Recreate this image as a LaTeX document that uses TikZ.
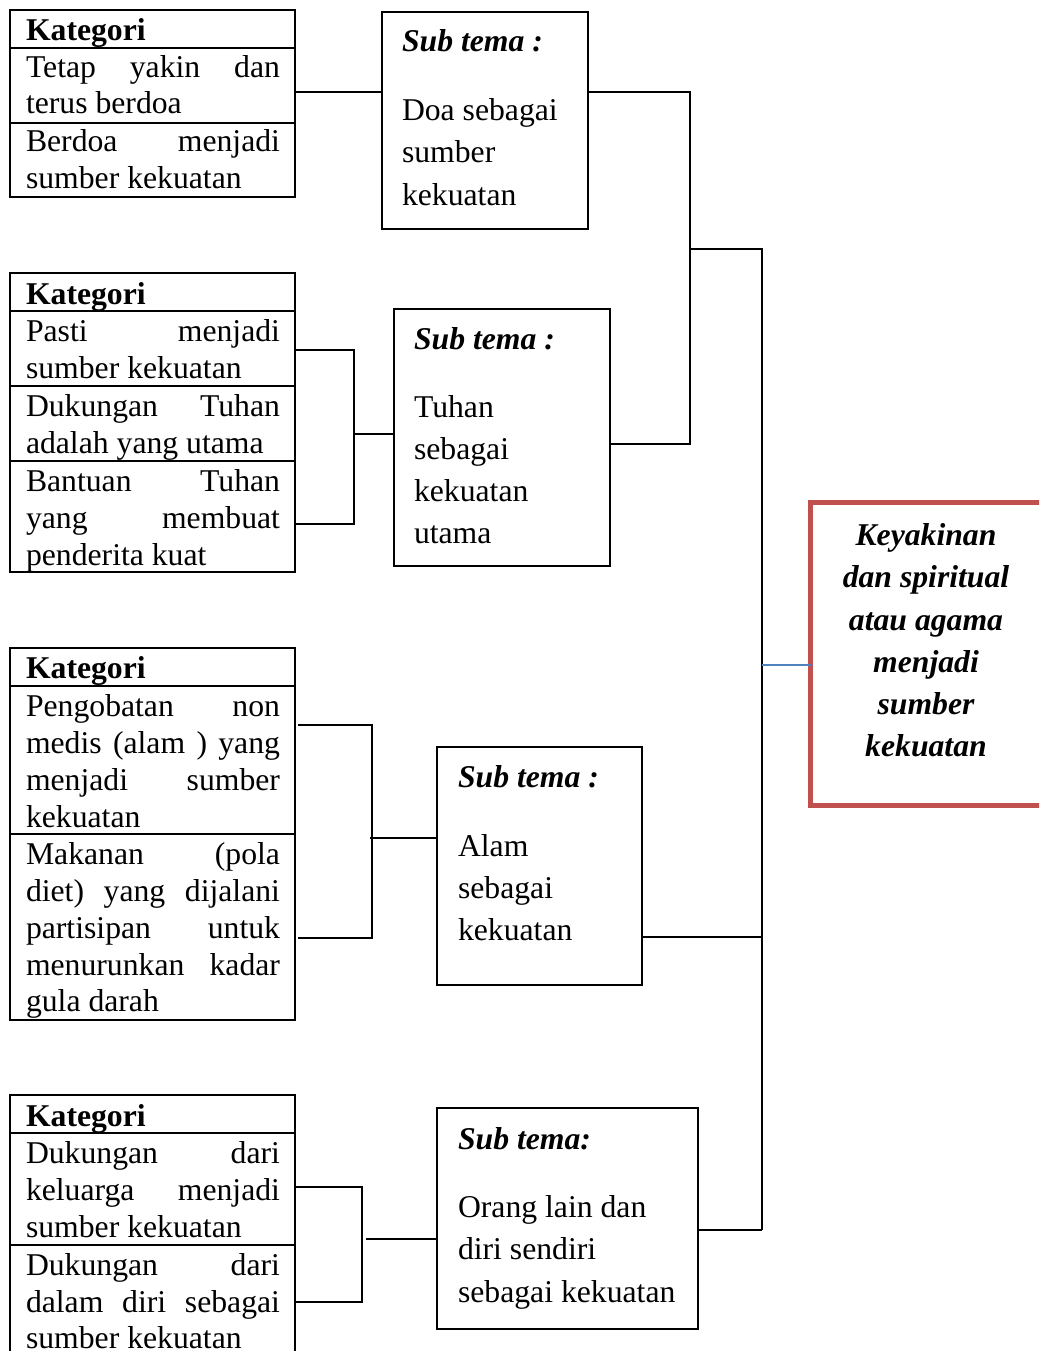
\documentclass[tikz,border=0pt]{standalone}
\usepackage{fontspec}
\setmainfont{Liberation Serif}
\definecolor{redbox}{HTML}{C0504D}
\definecolor{blueline}{HTML}{4F81BD}
\newcommand{\jl}[1]{\makebox[254pt][s]{#1}}
\tikzset{
  catbox/.style={draw, line width=2.2pt, inner sep=0pt, outer sep=0pt, anchor=north west},
  stbox/.style={draw, line width=1.6pt, inner sep=0pt, outer sep=0pt, anchor=north west},
  keybox/.style={draw=redbox, line width=5pt, inner sep=0pt, outer sep=0pt, anchor=north west},
  divline/.style={line width=2.2pt},
  conn/.style={line width=2pt},
  ln/.style={anchor=base west, inner sep=0pt, outer sep=0pt, font=\fontsize{31.7}{37}\selectfont},
  hd/.style={ln, font=\fontsize{31.7}{37}\selectfont\bfseries},
  ttl/.style={ln, font=\fontsize{31.7}{37}\selectfont\bfseries\itshape},
  kl/.style={anchor=base, inner sep=0pt, outer sep=0pt, font=\fontsize{31.7}{42}\selectfont\bfseries\itshape},
}
\begin{document}
\begin{tikzpicture}[x=1pt,y=-1pt]
\useasboundingbox (0,0) rectangle (1039,1351);
\clip (0,0) rectangle (1039,1351);
\fill[white] (0,0) rectangle (1039,1351);

% ---------- Kategori boxes ----------
\node[catbox, minimum width=285pt, minimum height=187pt] (k1) at (10,10) {};
\draw[divline] (k1.west |- 0,48) -- (k1.east |- 0,48);
\draw[divline] (k1.west |- 0,123) -- (k1.east |- 0,123);
\node[hd] (k1h) at (26,41) {Kategori};
\node[ln] (k1a) at (26,78) {\jl{Tetap yakin dan}};
\node[ln] (k1b) at (26,114) {terus berdoa};
\node[ln] (k1c) at (26,152) {\jl{Berdoa menjadi}};
\node[ln] (k1d) at (26,189) {sumber kekuatan};

\node[catbox, minimum width=285pt, minimum height=299pt] (k2) at (10,273) {};
\draw[divline] (k2.west |- 0,311) -- (k2.east |- 0,311);
\draw[divline] (k2.west |- 0,386) -- (k2.east |- 0,386);
\draw[divline] (k2.west |- 0,461) -- (k2.east |- 0,461);
\node[hd] (k2h) at (26,304) {Kategori};
\node[ln] (k2a) at (26,341) {\jl{Pasti menjadi}};
\node[ln] (k2b) at (26,378) {sumber kekuatan};
\node[ln] (k2c) at (26,416) {\jl{Dukungan Tuhan}};
\node[ln] (k2d) at (26,453) {adalah yang utama};
\node[ln] (k2e) at (26,491) {\jl{Bantuan Tuhan}};
\node[ln] (k2f) at (26,528) {\jl{yang membuat}};
\node[ln] (k2g) at (26,565) {penderita kuat};

\node[catbox, minimum width=285pt, minimum height=372pt] (k3) at (10,648) {};
\draw[divline] (k3.west |- 0,686) -- (k3.east |- 0,686);
\draw[divline] (k3.west |- 0,834) -- (k3.east |- 0,834);
\node[hd] (k3h) at (26,678) {Kategori};
\node[ln] (k3a) at (26,716) {\jl{Pengobatan non}};
\node[ln] (k3b) at (26,753) {\jl{medis (alam ) yang}};
\node[ln] (k3c) at (26,790) {\jl{menjadi sumber}};
\node[ln] (k3d) at (26,827) {kekuatan};
\node[ln] (k3e) at (26,864) {\jl{Makanan (pola}};
\node[ln] (k3f) at (26,901) {\jl{diet) yang dijalani}};
\node[ln] (k3g) at (26,938) {\jl{partisipan untuk}};
\node[ln] (k3h2) at (26,975) {\jl{menurunkan kadar}};
\node[ln] (k3i) at (26,1011) {gula darah};

\node[catbox, minimum width=285pt, minimum height=280pt] (k4) at (10,1095) {};
\draw[divline] (k4.west |- 0,1133) -- (k4.east |- 0,1133);
\draw[divline] (k4.west |- 0,1245) -- (k4.east |- 0,1245);
\node[hd] (k4h) at (26,1126) {Kategori};
\node[ln] (k4a) at (26,1163) {\jl{Dukungan dari}};
\node[ln] (k4b) at (26,1200) {\jl{keluarga menjadi}};
\node[ln] (k4c) at (26,1237) {sumber kekuatan};
\node[ln] (k4d) at (26,1275) {\jl{Dukungan dari}};
\node[ln] (k4e) at (26,1312) {\jl{dalam diri sebagai}};
\node[ln] (k4f) at (26,1348) {sumber kekuatan};

% ---------- Sub tema boxes ----------
\node[stbox, minimum width=206pt, minimum height=217pt] (s1) at (382,12) {};
\node[ttl] (s1t) at (402,52) {Sub tema :};
\node[ln] (s1a) at (402,121) {Doa sebagai};
\node[ln] (s1b) at (402,163) {sumber};
\node[ln] (s1c) at (402,205) {kekuatan};

\node[stbox, minimum width=216pt, minimum height=257pt] (s2) at (394,309) {};
\node[ttl] (s2t) at (414,349) {Sub tema :};
\node[ln] (s2a) at (414,417) {Tuhan};
\node[ln] (s2b) at (414,459) {sebagai};
\node[ln] (s2c) at (414,501) {kekuatan};
\node[ln] (s2d) at (414,543) {utama};

\node[stbox, minimum width=205pt, minimum height=238pt] (s3) at (437,747) {};
\node[ttl] (s3t) at (458,787) {Sub tema :};
\node[ln] (s3a) at (458,856) {Alam};
\node[ln] (s3b) at (458,898) {sebagai};
\node[ln] (s3c) at (458,940) {kekuatan};

\node[stbox, minimum width=261pt, minimum height=221pt] (s4) at (437,1108) {};
\node[ttl] (s4t) at (458,1149) {Sub tema:};
\node[ln] (s4a) at (458,1217) {Orang lain dan};
\node[ln] (s4b) at (458,1259) {diri sendiri};
\node[ln] (s4c) at (458,1302) {sebagai kekuatan};

% ---------- Main theme box ----------
\node[keybox, minimum width=260pt, minimum height=303pt] (kb) at (810.5,502.5) {};
\node[kl] (kb1) at (926,545) {Keyakinan};
\node[kl] (kb2) at (926,587) {dan spiritual};
\node[kl] (kb3) at (926,630) {atau agama};
\node[kl] (kb4) at (926,672) {menjadi};
\node[kl] (kb5) at (926,714) {sumber};
\node[kl] (kb6) at (926,756) {kekuatan};

% ---------- Junction coordinates ----------
\coordinate (b2) at (354,434);
\coordinate (b3) at (372,838);
\coordinate (b4) at (362,1239);
\coordinate (ja) at (690,92);
\coordinate (jb) at (690,444);
\coordinate (jc) at (690,249);
\coordinate (jd) at (762,249);
\coordinate (je) at (762,1230);
\coordinate (jf) at (762,665);
\coordinate (jg) at (762,937);

% ---------- Connectors ----------
\draw[conn] (k1.east |- 0,92) -- (s1.west |- 0,92);
\draw[conn] (k2.east |- 0,350) -| (b2) |- (k2.east |- 0,524);
\draw[conn] (b2) -- (s2.west |- b2);
\draw[conn] ([xshift=3pt]k3.east |- 0,725) -| (b3) |- ([xshift=3pt]k3.east |- 0,938);
\draw[conn] ([xshift=-2pt]b3) -- (s3.west |- b3);
\draw[conn] (k4.east |- 0,1187) -| (b4) |- (k4.east |- 0,1302);
\draw[conn] ([xshift=4pt]b4) -- (s4.west |- b4);

\draw[conn] (s1.east |- ja) -- (ja) -- (jb) -- (s2.east |- jb);
\draw[conn] (jc) -- (jd) -- (je);
\draw[conn] (s3.east |- jg) -- (jg);
\draw[conn] (s4.east |- je) -- (je);
\draw[line width=2pt, blueline] (jf) -- (kb.west |- jf);
\end{tikzpicture}
\end{document}
